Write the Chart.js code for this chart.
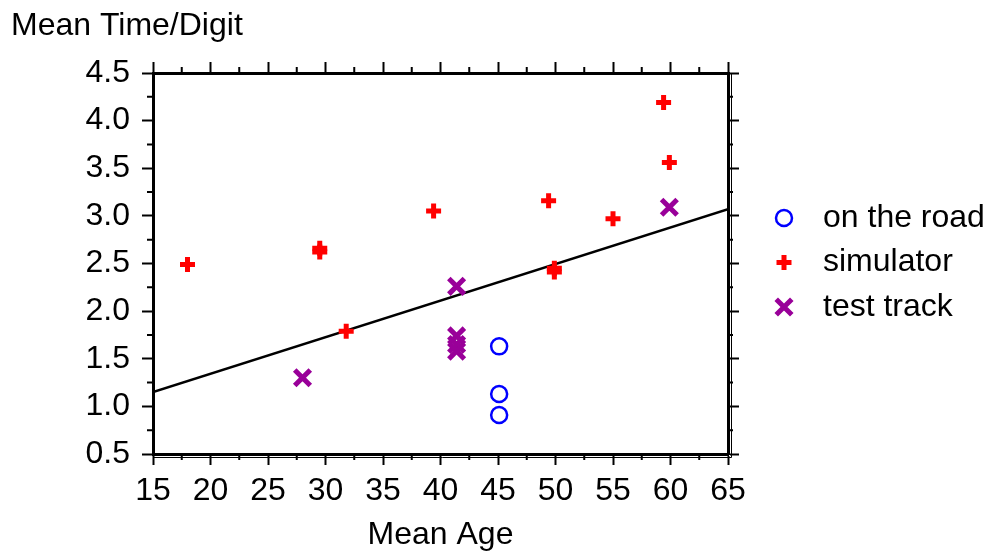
<!DOCTYPE html>
<html>
<head>
<meta charset="utf-8">
<title>Mean Time/Digit</title>
<script src="https://cdn.jsdelivr.net/npm/chart.js@4.4.1/dist/chart.umd.min.js"></script>
<style>
  body { margin: 0; background: #fff; }
  canvas { display: block; }
</style>
</head>
<body>
<canvas id="myChart" width="989" height="551"></canvas>
<script>
// values
const roadAge = [45.1, 45.1, 45.1];
const roadTime = [1.63, 1.13, 0.91];

const simAge = [18, 29.5, 29.5, 31.8, 39.4, 49.4, 49.9, 49.9, 55, 59.4, 59.9];
const simTime = [2.49, 2.66, 2.62, 1.79, 3.05, 3.16, 2.45, 2.41, 2.97, 4.19, 3.56];

const trackAge = [28, 41.4, 41.4, 41.4, 41.4, 59.9];
const trackTime = [1.30, 2.26, 1.74, 1.65, 1.58, 3.09];

// the straight line, its two ends
const fitAge = [15, 65];
const fitTime = [1.15, 3.07];

const seriesNames = ["on the road", "simulator", "test track"];
const xTicks = [15, 20, 25, 30, 35, 40, 45, 50, 55, 60, 65];
const yTicks = ["0.5", "1.0", "1.5", "2.0", "2.5", "3.0", "3.5", "4.0", "4.5"];

//==============================================================

const FONT = '"Liberation Sans", Arial, Helvetica, sans-serif';
const FSIZE = 32;
Chart.defaults.font.family = FONT;
Chart.defaults.font.size = FSIZE;
Chart.defaults.color = "#000";

function pts(xs, ys) {
	let out = [];
	for (let i = 0; i < xs.length; i++) {
		out.push({ x: xs[i], y: ys[i] });
	}
	return out;
}

// short ticks between the labelled ones, and the thin second line under / right of the frame
const frameTicks = {
	id: "frameTicks",
	afterDraw(chart) {
		const ctx = chart.ctx;
		const a = chart.chartArea;
		const sx = chart.scales.x;
		const sy = chart.scales.y;
		ctx.save();
		ctx.strokeStyle = "#000";
		ctx.lineWidth = 2;
		ctx.beginPath();
		for (let i = 0; i < xTicks.length - 1; i++) {
			const px = sx.getPixelForValue((xTicks[i] + xTicks[i + 1]) / 2);
			ctx.moveTo(px, a.bottom); ctx.lineTo(px, a.bottom + 6);
			ctx.moveTo(px, a.top); ctx.lineTo(px, a.top - 6);
		}
		for (let i = 0; i < yTicks.length - 1; i++) {
			const py = sy.getPixelForValue((+yTicks[i] + +yTicks[i + 1]) / 2);
			ctx.moveTo(a.left, py); ctx.lineTo(a.left - 6, py);
			ctx.moveTo(a.right, py); ctx.lineTo(a.right + 5, py);
		}
		ctx.stroke();

		ctx.lineWidth = 1;
		ctx.beginPath();
		ctx.moveTo(a.left, a.bottom + 3.5);
		ctx.lineTo(a.right + 3.5, a.bottom + 3.5);
		ctx.lineTo(a.right + 3.5, a.top);
		ctx.stroke();
		ctx.restore();
	}
};

// legend on the right side
const sideLegend = {
	id: "sideLegend",
	afterDraw(chart) {
		const ctx = chart.ctx;
		ctx.save();
		ctx.font = FSIZE + "px " + FONT;
		ctx.textBaseline = "middle";
		ctx.textAlign = "left";
		let row = 0;
		chart.data.datasets.forEach(function(ds) {
			if (!ds.inLegend) return;
			const y = 218 + row * 44.5;
			ctx.strokeStyle = ds.borderColor;
			ctx.fillStyle = ds.backgroundColor;
			ctx.lineWidth = ds.borderWidth;
			Chart.helpers.drawPoint(ctx, {
				pointStyle: ds.pointStyle,
				radius: ds.pointRadius,
				rotation: 0,
				borderWidth: ds.borderWidth
			}, 784, y);
			ctx.fillStyle = "#000";
			ctx.fillText(ds.label, 823, y);
			row++;
		});
		ctx.restore();
	}
};

const ctx = document.getElementById("myChart");

new Chart(ctx, {
	type: "scatter",
	data: {
		datasets: [{
			label: seriesNames[0],
			data: pts(roadAge, roadTime),
			pointStyle: "circle",
			pointRadius: 8,
			borderWidth: 2.5,
			borderColor: "#0000ff",
			backgroundColor: "rgba(255,255,255,0)",
			inLegend: true
		}, {
			label: seriesNames[1],
			data: pts(simAge, simTime),
			pointStyle: "cross",
			pointRadius: 7.5,
			borderWidth: 5,
			borderColor: "#ff0000",
			backgroundColor: "#ff0000",
			inLegend: true
		}, {
			label: seriesNames[2],
			data: pts(trackAge, trackTime),
			pointStyle: "crossRot",
			pointRadius: 11,
			borderWidth: 5,
			borderColor: "#990099",
			backgroundColor: "#990099",
			inLegend: true
		}, {
			label: "fit",
			data: pts(fitAge, fitTime),
			showLine: true,
			pointRadius: 0,
			borderWidth: 2.5,
			borderColor: "#000",
			fill: false
		}]
	},
	options: {
		responsive: false,
		devicePixelRatio: 1,
		animation: false,
		layout: { padding: { left: 11, right: 241, top: 0, bottom: 0 } },
		plugins: {
			legend: { display: false },
			tooltip: { enabled: false },
			title: {
				display: true,
				text: "Mean Time/Digit",
				align: "start",
				color: "#000",
				font: { size: FSIZE, weight: "normal" },
				padding: { top: 7, bottom: 0 }
			}
		},
		scales: {
			x: {
				type: "linear",
				position: "bottom",
				min: xTicks[0],
				max: xTicks[xTicks.length - 1],
				ticks: {
					stepSize: xTicks[1] - xTicks[0],
					autoSkip: false,
					maxRotation: 0,
					padding: 7,
					callback: function(v) { return xTicks.includes(v) ? String(v) : ""; }
				},
				grid: { drawOnChartArea: false, tickLength: 11, tickWidth: 2, tickColor: "#000" },
				border: { color: "#000", width: 3 },
				title: { display: true, text: "Mean Age", font: { size: FSIZE, lineHeight: 1.0 }, padding: 0 },
				afterFit: function(s) { s.height = 551 - 454; }
			},
			x2: {
				type: "linear",
				position: "top",
				min: xTicks[0],
				max: xTicks[xTicks.length - 1],
				ticks: { display: false, stepSize: xTicks[1] - xTicks[0], autoSkip: false },
				grid: { drawOnChartArea: false, tickLength: 11, tickWidth: 2, tickColor: "#000" },
				border: { color: "#000", width: 3 },
				afterFit: function(s) { s.height = 73 - (7 + FSIZE * 1.2); }
			},
			y: {
				type: "linear",
				position: "left",
				min: +yTicks[0],
				max: +yTicks[yTicks.length - 1],
				ticks: {
					stepSize: yTicks[1] - yTicks[0],
					autoSkip: false,
					padding: 12,
					callback: function(v) {
						const t = yTicks.find(function(s) { return Math.abs(+s - v) < 1e-6; });
						return t === undefined ? "" : t;
					}
				},
				grid: { drawOnChartArea: false, tickLength: 11, tickWidth: 2, tickColor: "#000" },
				border: { color: "#000", width: 3 },
				afterFit: function(s) { s.width = 153 - 11; }
			},
			y2: {
				type: "linear",
				position: "right",
				min: +yTicks[0],
				max: +yTicks[yTicks.length - 1],
				ticks: { display: false, stepSize: yTicks[1] - yTicks[0], autoSkip: false },
				grid: { drawOnChartArea: false, tickLength: 11, tickWidth: 2, tickColor: "#000" },
				border: { color: "#000", width: 3 },
				afterFit: function(s) { s.width = 20; }
			}
		}
	},
	plugins: [frameTicks, sideLegend]
});
</script>
</body>
</html>
